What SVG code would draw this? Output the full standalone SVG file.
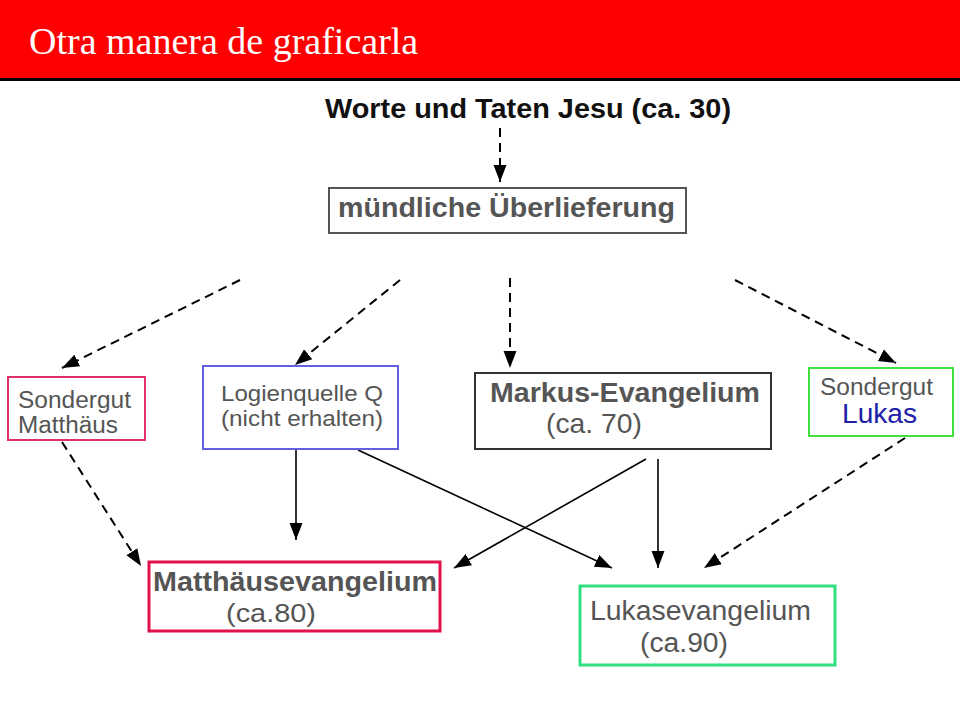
<svg xmlns="http://www.w3.org/2000/svg" width="960" height="720" viewBox="0 0 960 720">
<style>
.sans{font-family:"Liberation Sans",Arial,sans-serif}
.b{font-weight:bold}
.g{fill:#555}
.box{fill:#fff}
.dash{stroke:#000;stroke-width:2;stroke-dasharray:9 6;fill:none}
.solid{stroke:#000;stroke-width:1.6;fill:none}
</style>
<defs>
<marker id="ahs" viewBox="0 0 10 10" refX="10" refY="5" markerWidth="17" markerHeight="17" markerUnits="userSpaceOnUse" orient="auto">
<path d="M0,1.2 L10,5 L0,8.8 z" fill="#000"/>
</marker>
</defs>
<rect width="960" height="720" fill="#fff"/>
<g id="header">
<rect x="0" y="0" width="960" height="79" fill="#ff0000"/>
<rect x="0" y="78" width="960" height="3" fill="#000"/>
<text x="29" y="54" font-family="Liberation Serif,'Times New Roman',serif" font-size="38" fill="#fff">Otra manera de graficarla</text>
</g>
<g id="connectors">
<line class="dash" x1="500" y1="128" x2="500" y2="182" marker-end="url(#ahs)"/>
<line class="dash" x1="240" y1="280" x2="62" y2="368" marker-end="url(#ahs)"/>
<line class="dash" x1="400" y1="280" x2="295" y2="365" marker-end="url(#ahs)"/>
<line class="dash" x1="510" y1="278" x2="510" y2="368" marker-end="url(#ahs)"/>
<line class="dash" x1="735" y1="280" x2="896" y2="363" marker-end="url(#ahs)"/>
<line class="dash" x1="62" y1="442" x2="141" y2="566" marker-end="url(#ahs)"/>
<line class="dash" x1="905" y1="438" x2="704" y2="568" marker-end="url(#ahs)"/>
<line class="solid" x1="296" y1="450" x2="296" y2="540" marker-end="url(#ahs)"/>
<line class="solid" x1="358" y1="450" x2="612" y2="568" marker-end="url(#ahs)"/>
<line class="solid" x1="646" y1="459" x2="454" y2="568" marker-end="url(#ahs)"/>
<line class="solid" x1="658" y1="459" x2="658" y2="568" marker-end="url(#ahs)"/>
</g>
<g id="worte">
<text x="325" y="118" class="sans b" font-size="28" fill="#111" textLength="406" lengthAdjust="spacingAndGlyphs">Worte und Taten Jesu (ca. 30)</text>
</g>
<g id="muendlich">
<rect x="329" y="188" width="357" height="45" class="box" stroke="#555" stroke-width="2"/>
<text x="338" y="217" class="sans b g" font-size="28" textLength="337" lengthAdjust="spacingAndGlyphs">mündliche Überlieferung</text>
</g>
<g id="sondergut-matthaeus">
<rect x="8" y="377" width="137" height="63" class="box" stroke="#e0306a" stroke-width="2"/>
<text x="18" y="408" class="sans g" font-size="23" textLength="113" lengthAdjust="spacingAndGlyphs">Sondergut</text>
<text x="18" y="433" class="sans g" font-size="23" textLength="100" lengthAdjust="spacingAndGlyphs">Matthäus</text>
</g>
<g id="logienquelle">
<rect x="203" y="366" width="195" height="83" class="box" stroke="#6060e0" stroke-width="2"/>
<text x="221" y="401" class="sans g" font-size="22" textLength="162" lengthAdjust="spacingAndGlyphs">Logienquelle Q</text>
<text x="221" y="426" class="sans g" font-size="22" textLength="162" lengthAdjust="spacingAndGlyphs">(nicht erhalten)</text>
</g>
<g id="markus">
<rect x="475" y="373" width="296" height="76" class="box" stroke="#333" stroke-width="2"/>
<text x="490" y="402" class="sans b g" font-size="28" textLength="270" lengthAdjust="spacingAndGlyphs">Markus-Evangelium</text>
<text x="546" y="433" class="sans g" font-size="28" textLength="96" lengthAdjust="spacingAndGlyphs">(ca. 70)</text>
</g>
<g id="sondergut-lukas">
<rect x="809" y="368" width="144" height="68" class="box" stroke="#40e040" stroke-width="2"/>
<text x="820" y="395" class="sans g" font-size="23" textLength="113" lengthAdjust="spacingAndGlyphs">Sondergut</text>
<text x="842" y="423" class="sans" font-size="27" fill="#2020a8" textLength="75" lengthAdjust="spacingAndGlyphs">Lukas</text>
</g>
<g id="matthaeusevangelium">
<rect x="149" y="562" width="291" height="69" class="box" stroke="#e0104a" stroke-width="3"/>
<text x="153" y="591" class="sans b g" font-size="27" textLength="284" lengthAdjust="spacingAndGlyphs">Matthäusevangelium</text>
<text x="226" y="622" class="sans g" font-size="26" textLength="90" lengthAdjust="spacingAndGlyphs">(ca.80)</text>
</g>
<g id="lukasevangelium">
<rect x="580" y="586" width="255" height="79" class="box" stroke="#30e080" stroke-width="3"/>
<text x="590" y="620" class="sans g" font-size="27" textLength="221" lengthAdjust="spacingAndGlyphs">Lukasevangelium</text>
<text x="640" y="652" class="sans g" font-size="27" textLength="88" lengthAdjust="spacingAndGlyphs">(ca.90)</text>
</g>
</svg>
